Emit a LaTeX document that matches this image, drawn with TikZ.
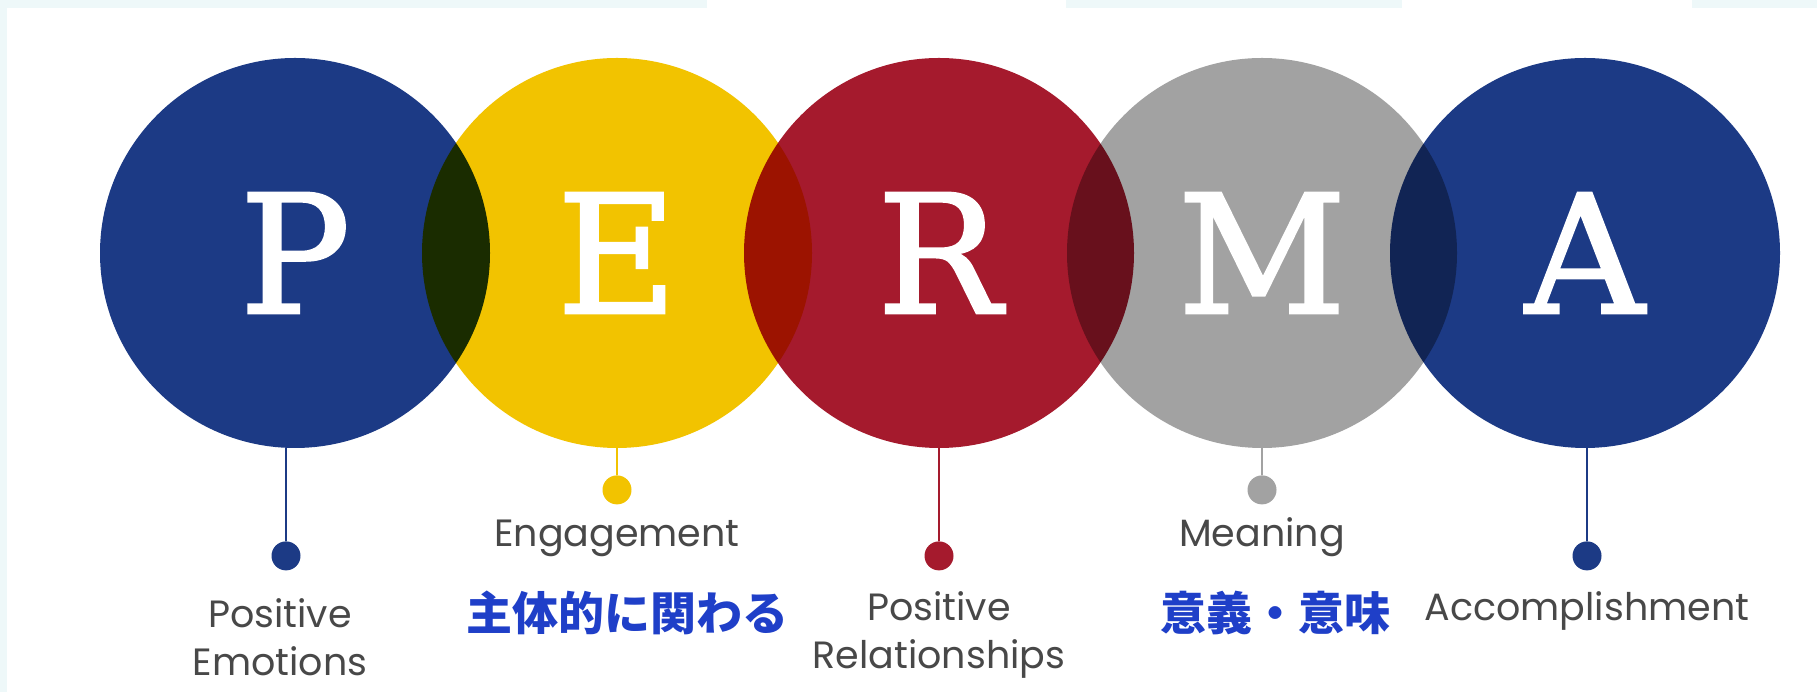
\documentclass[tikz,border=0pt]{standalone}
\usepackage{fontspec}
\setmainfont{Poppins}
\newfontfamily\cjk{Noto Sans CJK JP}
\newfontfamily\slab{DejaVu Serif}[FakeBold=1.5]
\usetikzlibrary{positioning}

\definecolor{permaNavy}{HTML}{1C3A85}
\definecolor{permaYellow}{HTML}{F2C300}
\definecolor{permaRed}{HTML}{A51A2D}
\definecolor{permaGray}{HTML}{A2A2A2}
\definecolor{permaText}{HTML}{484848}
\definecolor{permaBlue}{HTML}{1F3FC8}
\definecolor{permaEdge}{HTML}{EEF8F9}

\begin{document}
\begin{tikzpicture}[
    x = 1pt, y = 1pt,
    ring/.style = {circle, minimum size = 390pt, inner sep = 0pt}, % big coloured disc
    glyph/.style = {text = white, inner sep = 0pt, font = \slab\fontsize{165}{165}\selectfont},
    bead/.style = {circle, minimum size = 29pt, inner sep = 0pt},
    stem/.style = {line width = 2.3pt},
    lbl/.style = {text = permaText, align = center, anchor = base, font = \fontsize{38}{48}\selectfont},
    jp/.style = {text = permaBlue, font = \cjk\bfseries\fontsize{46}{46}\selectfont}
]

    \useasboundingbox (0,0) rectangle (1817,692);
    \fill[white] (0,0) rectangle (1817,692);

    % faint screenshot edges
    \fill[permaEdge] (0,684) rectangle (707,692);
    \fill[permaEdge] (1066,684) rectangle (1402,692);
    \fill[permaEdge] (1692,684) rectangle (1817,692);
    \fill[permaEdge] (0,0) rectangle (7,692);

    % discs, overlaps come from multiply
    \begin{scope}[blend group = multiply]
        \node[ring, fill = permaNavy]   (P) at (295,439) {};
        \node[ring, fill = permaYellow] (E) at (617,439) {};
        \node[ring, fill = permaRed]    (R) at (939,439) {};
        \node[ring, fill = permaGray]   (M) at (1262,439) {};
        \node[ring, fill = permaNavy]   (A) at (1585,439) {};
    \end{scope}

    \foreach \c in {P, E, R, M, A}
        \node[glyph] at (\c) {\c};

    % beads under the discs
    \node[bead, fill = permaNavy,   below = 93pt of P, xshift = -9pt] (dP) {};
    \node[bead, fill = permaYellow, below = 27pt of E]                (dE) {};
    \node[bead, fill = permaRed,    below = 93pt of R]                (dR) {};
    \node[bead, fill = permaGray,   below = 27pt of M]                (dM) {};
    \node[bead, fill = permaNavy,   below = 93pt of A, xshift = 2pt]  (dA) {};

    \draw[stem, permaNavy]   (dP) -- (dP |- P.south);
    \draw[stem, permaYellow] (dE) -- (dE |- E.south);
    \draw[stem, permaRed]    (dR) -- (dR |- R.south);
    \draw[stem, permaGray]   (dM) -- (dM |- M.south);
    \draw[stem, permaNavy]   (dA) -- (dA |- A.south);

    % labels (base = last line)
    \node[lbl] (tP) at ([xshift = -6pt, yshift = -120pt]dP) {Positive\\Emotions};
    \node[lbl] (tE) at ([yshift = -57pt]dE) {Engagement};
    \node[lbl] (tR) at ([yshift = -113pt]dR) {Positive\\Relationships};
    \node[lbl] (tM) at ([yshift = -57pt]dM) {Meaning};
    \node[lbl] (tA) at ([yshift = -65pt]dA) {Accomplishment};

    \node[jp] (jE) at ([xshift = 10pt, yshift = -123pt]dE) {主体的に関わる};
    \node[jp] (jM) at ([xshift = 13pt, yshift = -123pt]dM) {意義・意味};

\end{tikzpicture}
\end{document}
